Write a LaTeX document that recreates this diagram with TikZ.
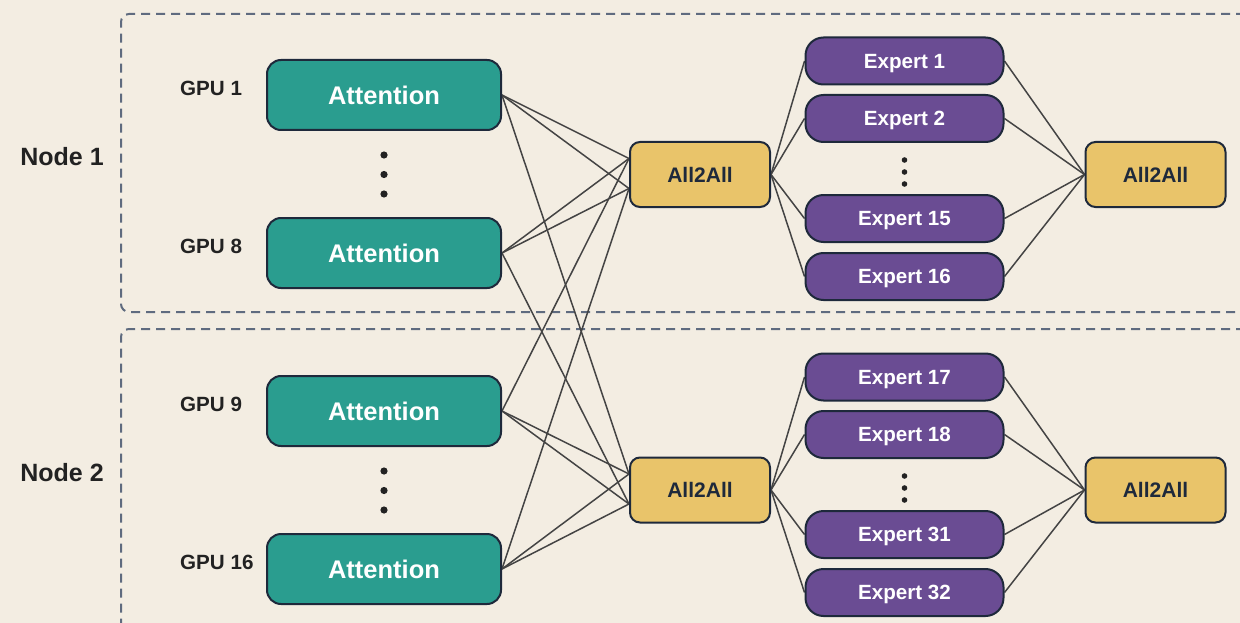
\documentclass[tikz,border=0pt]{standalone}
\usepackage{fontspec}
\setmainfont{Liberation Sans}
\usetikzlibrary{calc}

\definecolor{paper}{HTML}{F3EDE2}
\definecolor{attnfill}{HTML}{2A9D8F}
\definecolor{a2afill}{HTML}{E9C46A}
\definecolor{expfill}{HTML}{6A4C93}
\definecolor{edge}{HTML}{1E293B}
\definecolor{wire}{HTML}{444444}
\definecolor{groupline}{HTML}{5F6B7F}
\definecolor{ink}{HTML}{222222}

\pgfdeclarelayer{back}
\pgfdeclarelayer{wires}
\pgfsetlayers{back,wires,main}

\tikzset{
  % centre the label on its capitals: cap height of Liberation Sans is 0.716 em
  capcentred/.style={text height=#1, text depth=0pt},
  box/.style={draw=edge, line width=2pt, align=center, inner sep=0pt},
  attn/.style={box, fill=attnfill, rounded corners=14pt,
    minimum width=234pt, minimum height=70pt, text=white,
    font=\bfseries\fontsize{25.5}{30}\selectfont, capcentred=18.26pt},
  a2a/.style={box, fill=a2afill, rounded corners=10pt,
    minimum width=140pt, minimum height=65pt, text=edge,
    font=\bfseries\fontsize{21}{25}\selectfont, capcentred=15.04pt},
  expert/.style={box, fill=expfill, rounded corners=18pt,
    minimum width=198pt, minimum height=47pt, text=white,
    font=\bfseries\fontsize{20.6}{24}\selectfont, capcentred=14.75pt},
  gpulabel/.style={anchor=west, inner sep=0pt, text=ink,
    font=\bfseries\fontsize{20.6}{24}\selectfont, capcentred=14.75pt},
  grouplabel/.style={inner sep=0pt, text=ink,
    font=\bfseries\fontsize{25}{30}\selectfont, capcentred=17.9pt},
  group/.style={draw=groupline, line width=2pt, dash pattern=on 9pt off 6pt,
    rounded corners=8pt},
  link/.style={draw=wire, line width=1.5pt},
  dot/.style={fill=ink},
}

\begin{document}
\begin{tikzpicture}[x=1pt,y=-1pt]
  \useasboundingbox (0,0) rectangle (1240,623);
  \begin{pgfonlayer}{back}
    \fill[paper] (0,0) rectangle (1240,623);
    \begin{scope}
      \clip (0,0) rectangle (1240,623);
      % dashed frames of the two machines, open to the right
      \draw[group] (1260,14) -- (121,14) -- (121,312) -- (1260,312);
      \draw[group] (1260,329) -- (121,329) -- (121,650);
    \end{scope}
  \end{pgfonlayer}

  % machine labels
  \node[grouplabel] (n1) at (62,157) {Node 1};
  \node[grouplabel] (n2) at (62,473) {Node 2};

  % GPU labels
  \node[gpulabel] (g1)  at (180,88.5)  {GPU 1};
  \node[gpulabel] (g8)  at (180,246) {GPU 8};
  \node[gpulabel] (g9)  at (180,404) {GPU 9};
  \node[gpulabel] (g16) at (180,562) {GPU 16};

  % attention blocks
  \node[attn] (att1)  at (384,95)  {Attention};
  \node[attn] (att8)  at (384,253) {Attention};
  \node[attn] (att9)  at (384,411) {Attention};
  \node[attn] (att16) at (384,569) {Attention};

  % vertical ellipses between attention blocks
  \foreach \y in {155,174.5,194,471,490.5,510}
    \fill[dot] (384,\y) circle[radius=3.6pt];

  % dispatch all-to-all
  \node[a2a] (d1) at (700,174.5) {All2All};
  \node[a2a] (d2) at (700,490)   {All2All};

  % experts
  \node[expert] (e1)  at (904.5,61)    {Expert 1};
  \node[expert] (e2)  at (904.5,118.5) {Expert 2};
  \node[expert] (e15) at (904.5,218.5) {Expert 15};
  \node[expert] (e16) at (904.5,276.5) {Expert 16};
  \node[expert] (e17) at (904.5,377)   {Expert 17};
  \node[expert] (e18) at (904.5,434.5) {Expert 18};
  \node[expert] (e31) at (904.5,534.5) {Expert 31};
  \node[expert] (e32) at (904.5,592.5) {Expert 32};

  \foreach \y in {160,172,184,476,488,500}
    \fill[dot] (904.5,\y) circle[radius=2.8pt];

  % combine all-to-all
  \node[a2a] (c1) at (1155.5,174.5) {All2All};
  \node[a2a] (c2) at (1155.5,490)   {All2All};

  % entry points on the dispatch blocks
  \coordinate (d1up) at ($(d1.west)+(0,-16)$);
  \coordinate (d1lo) at ($(d1.west)+(0,14)$);
  \coordinate (d2up) at ($(d2.west)+(0,-16)$);
  \coordinate (d2lo) at ($(d2.west)+(0,14)$);

  \begin{pgfonlayer}{wires}
    \foreach \s in {att1,att8} {
      \draw[link] (\s.east) -- (d1up);
      \draw[link] (\s.east) -- (d1lo);
    }
    \foreach \s in {att9,att16} {
      \draw[link] (\s.east) -- (d2up);
      \draw[link] (\s.east) -- (d2lo);
    }
    \draw[link] (att1.east)  -- (d2up);
    \draw[link] (att8.east)  -- (d2lo);
    \draw[link] (att9.east)  -- (d1up);
    \draw[link] (att16.east) -- (d1lo);

    \foreach \e in {e1,e2,e15,e16} {
      \draw[link] (d1.east) -- (\e.west);
      \draw[link] (\e.east) -- (c1.west);
    }
    \foreach \e in {e17,e18,e31,e32} {
      \draw[link] (d2.east) -- (\e.west);
      \draw[link] (\e.east) -- (c2.west);
    }
  \end{pgfonlayer}
\end{tikzpicture}
\end{document}
